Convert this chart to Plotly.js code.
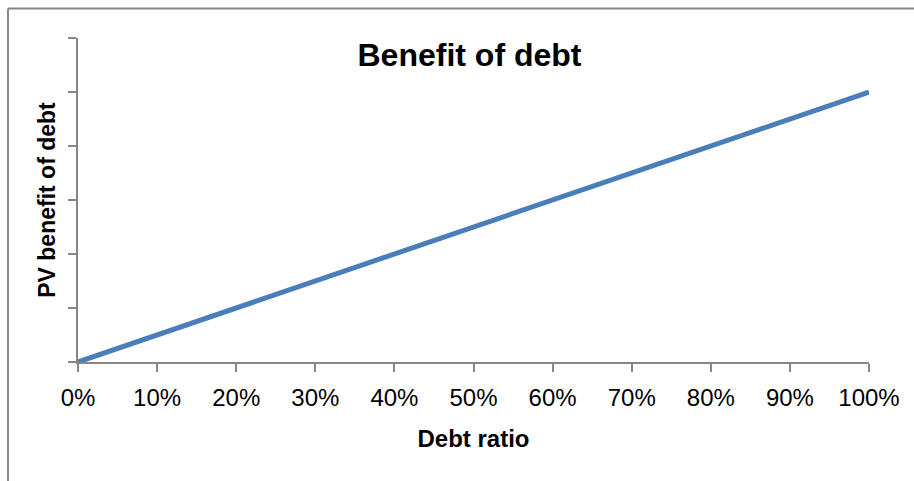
<!DOCTYPE html>
<html>
<head>
<meta charset="utf-8">
<script src="https://cdn.plot.ly/plotly-3.0.1.min.js"></script>
<style>
  html, body { margin: 0; padding: 0; background: #fff; }
  #chart { width: 914px; height: 481px; }
</style>
</head>
<body>
<div id="chart"></div>
<script>
// Data
const debtRatio = [0, 0.1, 0.2, 0.3, 0.4, 0.5, 0.6, 0.7, 0.8, 0.9, 1.0];
const pvBenefit = [0, 5, 10, 15, 20, 25, 30, 35, 40, 45, 50];
const xTickVals = [0, 0.1, 0.2, 0.3, 0.4, 0.5, 0.6, 0.7, 0.8, 0.9, 1.0];
const xTickText = ['0%', '10%', '20%', '30%', '40%', '50%', '60%', '70%', '80%', '90%', '100%'];

const W = 914, H = 481;
const M = { l: 78, r: 45, t: 38, b: 119 };
const pw = W - M.l - M.r, ph = H - M.t - M.b;
const frameColor = '#878787';
const axisColor = '#868686';
const FONT = 'Liberation Sans, Arial, sans-serif';

// frame edges (pixel positions converted to paper coordinates)
const fx0 = (8 - M.l) / pw, fx1 = (W - M.l) / pw;
const fy0 = -(M.b) / ph, fyTop = 1 + (M.t - 8.5) / ph;

const trace = {
  x: debtRatio,
  y: pvBenefit,
  type: 'scatter',
  mode: 'lines',
  line: { color: '#4a7ebb', width: 5 },
  hoverinfo: 'skip'
};

const layout = {
  width: W, height: H,
  margin: M,
  paper_bgcolor: '#ffffff',
  plot_bgcolor: '#ffffff',
  showlegend: false,
  font: { family: FONT, color: '#000000' },
  title: {
    text: '<b>Benefit of debt</b>',
    font: { family: FONT, size: 32, color: '#000000' },
    x: (469.5) / W, xanchor: 'center',
    y: 1 - 55 / H, yanchor: 'middle'
  },
  xaxis: {
    range: [0, 1],
    tickvals: xTickVals,
    ticktext: xTickText,
    ticks: 'outside', ticklen: 8, tickwidth: 2, tickcolor: axisColor,
    showline: true, linecolor: axisColor, linewidth: 2,
    showgrid: false, zeroline: false,
    ticklabelstandoff: 5,
    tickfont: { family: FONT, size: 24, color: '#000000' },
    title: { text: '<b>Debt ratio</b>', font: { family: FONT, size: 24, color: '#000000' }, standoff: 20 },
    automargin: false,
    fixedrange: true
  },
  yaxis: {
    range: [0, 60],
    dtick: 10,
    tick0: 0,
    showticklabels: false,
    ticks: 'outside', ticklen: 8, tickwidth: 2, tickcolor: axisColor,
    showline: true, linecolor: axisColor, linewidth: 2,
    showgrid: false, zeroline: false,
    title: { text: '<b>PV benefit of debt</b>', font: { family: FONT, size: 23, color: '#000000' }, standoff: 6 },
    automargin: false,
    fixedrange: true
  },
  shapes: [
    { type: 'line', xref: 'paper', yref: 'paper', x0: fx0, x1: fx1, y0: fyTop, y1: fyTop,
      line: { color: frameColor, width: 2 } },
    { type: 'line', xref: 'paper', yref: 'paper', x0: fx0, x1: fx0, y0: fyTop, y1: fy0,
      line: { color: frameColor, width: 2 } }
  ]
};

Plotly.newPlot('chart', [trace], layout, { displayModeBar: false, staticPlot: true });
</script>
</body>
</html>
